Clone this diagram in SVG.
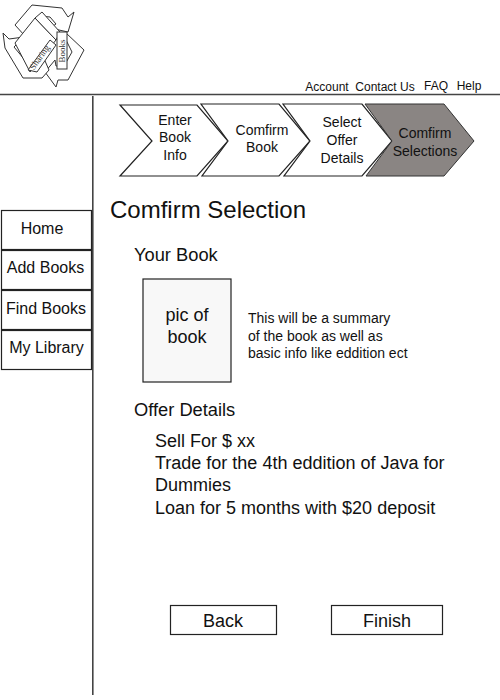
<svg xmlns="http://www.w3.org/2000/svg" width="500" height="700" viewBox="0 0 500 700">
<style>
text{font-family:"Liberation Sans",Arial,sans-serif;fill:#111;text-anchor:middle}
.l{text-anchor:start}
.box{fill:#fff;stroke:#222;stroke-width:1.2}
.logo{fill:#fff;stroke:#333;stroke-width:1}
.rule{stroke:#444;stroke-width:1.6;fill:none}
.serif{font-family:"Liberation Serif",serif;fill:#333}
</style>
<rect width="500" height="700" fill="#fff"/>
<g id="logo">
<path class="logo" d="M15 25 L32 5 L62 8 L68 17 L74 12 L68 32 L50 28 L56 24 L50 17 L40 16 L25 36 Z"/>
<path class="logo" d="M66 33 L84 50 L68 80 L58 80 L56 87 L45 72 L55 60 L56 66 L64 66 L72 52 L66 40 Z"/>
<path class="logo" d="M3 33 L9 39 L24 37 L14 47 L24 59 L42 60 L42 54 L49 70 L42 78 L23 78 L5 48 Z"/>
<path class="logo" d="M15 43 L35 18 L56 40 L30 72 Z"/>
<path class="logo" d="M35 18 L42 12 L60 32 L56 40 Z"/>
<path class="logo" d="M28 70 L50 40 L56 45 L37 72 Z"/>
<rect class="logo" x="57" y="32" width="10" height="37"/>
<text class="serif" transform="translate(42 59) rotate(-55)" font-size="9">Sharing</text>
<text class="serif" transform="translate(65 51) rotate(-90)" font-size="9">Books</text>
</g>
<g id="top-links" font-size="12">
<text x="327" y="91">Account</text>
<text x="385" y="91">Contact Us</text>
<text x="436" y="90">FAQ</text>
<text x="469" y="90">Help</text>
</g>
<g id="connectors">
<path class="rule" d="M0 94.500H500"/>
<path class="rule" d="M92.800 96V695"/>
</g>
<g id="step1"><path class="box" d="M120 105H197L228 141L197 176H120L152 141Z"/>
<text font-size="14"><tspan x="175" y="125">Enter</tspan><tspan x="175" y="142">Book</tspan><tspan x="175" y="160">Info</tspan></text></g>
<g id="step2"><path class="box" d="M201 104H279L310 141L279 176H202L228 141Z"/>
<text font-size="14"><tspan x="262" y="135">Comfirm</tspan><tspan x="262" y="152">Book</tspan></text></g>
<g id="step3"><path class="box" d="M283 104H362L392 141L362 176H284L310 141Z"/>
<text font-size="14"><tspan x="342" y="127">Select</tspan><tspan x="342" y="145">Offer</tspan><tspan x="342" y="163">Details</tspan></text></g>
<g id="step4"><path d="M365 104H444L474 141L444 176H366L392 141Z" fill="#8a8583" stroke="#333"/>
<text font-size="14"><tspan x="425" y="138">Comfirm</tspan><tspan x="425" y="156">Selections</tspan></text></g>
<g id="nav-home"><rect class="box" x="1.500" y="210.500" width="90" height="39"/><text x="42" y="234" font-size="16">Home</text></g>
<g id="nav-add"><rect class="box" x="1.500" y="250.500" width="90" height="39"/><text x="45.500" y="273" font-size="16">Add Books</text></g>
<g id="nav-find"><rect class="box" x="1.500" y="290.500" width="90" height="39"/><text x="46" y="314" font-size="16">Find Books</text></g>
<g id="nav-library"><rect class="box" x="1.500" y="330.500" width="90" height="39"/><text x="46.500" y="353" font-size="16">My Library</text></g>
<text class="l" x="110" y="218" font-size="24">Comfirm Selection</text>
<text class="l" x="134" y="261" font-size="18.300">Your Book</text>
<g id="book-pic"><rect x="143" y="279" width="88" height="103" fill="#f8f8f8" stroke="#222" stroke-width="1.200"/>
<text font-size="18"><tspan x="187" y="321">pic of</tspan><tspan x="187" y="343">book</tspan></text></g>
<text class="l" font-size="14"><tspan x="248" y="323">This will be a summary</tspan><tspan x="248" y="341">of the book as well as</tspan><tspan x="248" y="358">basic info like eddition ect</tspan></text>
<text class="l" x="134" y="416" font-size="18.300">Offer Details</text>
<text class="l" font-size="18"><tspan x="155" y="447">Sell For $ xx</tspan><tspan x="155" y="469">Trade for the 4th eddition of Java for</tspan><tspan x="155" y="491">Dummies</tspan><tspan x="155" y="514">Loan for 5 months with $20 deposit</tspan></text>
<g id="back"><rect class="box" x="170.500" y="605.500" width="106" height="29"/><text x="223" y="627" font-size="18">Back</text></g>
<g id="finish"><rect class="box" x="331.500" y="605.500" width="111" height="29"/><text x="387" y="627" font-size="18">Finish</text></g>
</svg>
